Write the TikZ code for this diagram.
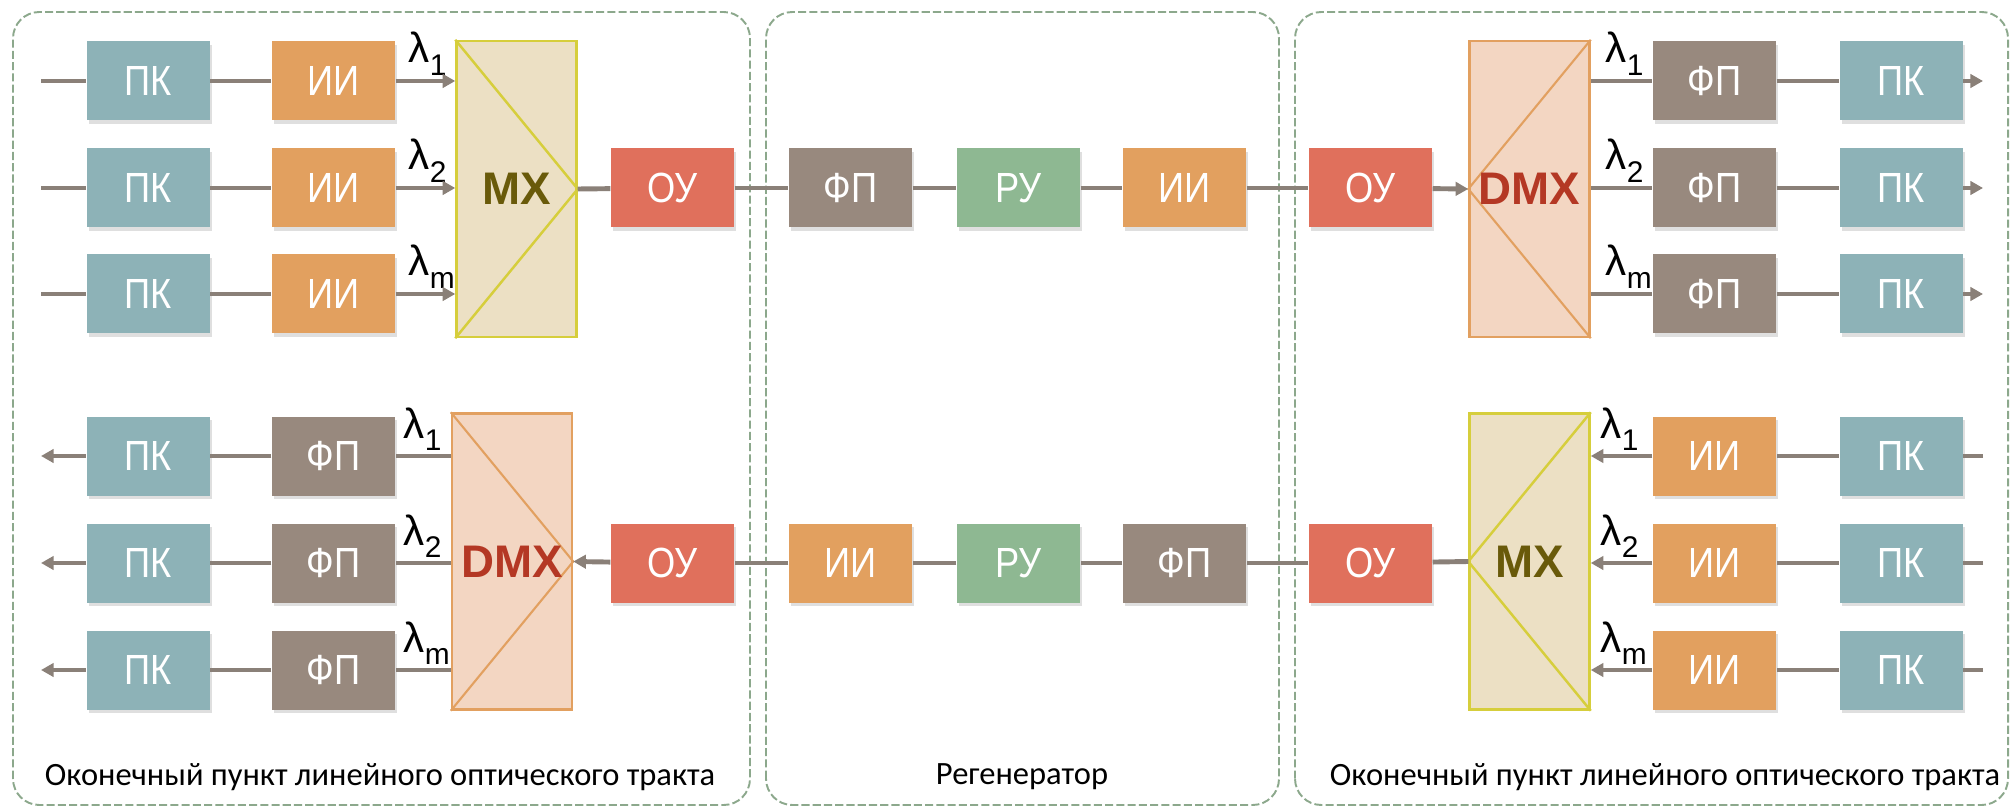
\documentclass[tikz,border=0pt]{standalone}
\usepackage{fontspec}
\setmainfont{Liberation Sans}
\newfontfamily\blockfont[FakeStretch=0.86]{Liberation Sans}
\newfontfamily\notefont{Carlito}
\usepackage{tikz}
\usetikzlibrary{calc,positioning,arrows.meta,shadows}

\definecolor{pkcol}{RGB}{141,178,183}
\definecolor{iicol}{RGB}{226,160,95}
\definecolor{fpcol}{RGB}{152,137,126}
\definecolor{oucol}{RGB}{224,112,92}
\definecolor{rucol}{RGB}{142,184,146}
\definecolor{wirecol}{RGB}{138,128,120}
\definecolor{framecol}{RGB}{140,168,140}
\definecolor{mxfill}{RGB}{236,224,196}
\definecolor{mxdraw}{RGB}{214,206,60}
\definecolor{mxtext}{RGB}{105,90,10}
\definecolor{dmxfill}{RGB}{243,214,194}
\definecolor{dmxdraw}{RGB}{226,160,96}
\definecolor{dmxtext}{RGB}{180,56,36}

\newcommand{\lsub}[1]{\raisebox{-0.3em}{\fontsize{8.5}{9}\selectfont #1}}

\begin{document}
\begin{tikzpicture}[
    blk/.style={minimum width=1.23cm, minimum height=0.79cm, inner sep=0pt,
      text=white, font=\blockfont\fontsize{12}{14}\selectfont,
      drop shadow={shadow xshift=0.6pt, shadow yshift=-0.9pt, opacity=0.25}},
    pk/.style={blk, fill=pkcol},
    ii/.style={blk, fill=iicol},
    fp/.style={blk, fill=fpcol},
    ou/.style={blk, fill=oucol},
    ru/.style={blk, fill=rucol},
    mux/.style={minimum width=1.2cm, minimum height=2.96cm, inner sep=0pt, line width=0.7pt},
    mxbox/.style={mux, draw=mxdraw, fill=mxfill},
    dmxbox/.style={mux, draw=dmxdraw, fill=dmxfill},
    mxlbl/.style={font=\bfseries\fontsize{13}{15}\selectfont, text=mxtext, inner sep=0pt},
    dmxlbl/.style={font=\bfseries\fontsize{13}{15}\selectfont, text=dmxtext, inner sep=0pt},
    wire/.style={draw=wirecol, line width=1.4pt},
    arr/.style={wire, -{Triangle[length=3.6pt, width=3.8pt]}},
    lam/.style={inner sep=0pt, font=\fontsize{12}{14}\selectfont, anchor=base west},
    panel/.style={draw=framecol, line width=0.55pt, dash pattern=on 2.3pt off 0.9pt, rounded corners=7.5pt},
    note/.style={font=\notefont\fontsize{9.25}{11}\selectfont},
  ]
  \useasboundingbox (0,0) rectangle (20.16,8.08);

  % frames and captions
  \draw[panel] (0.13,0.03) rectangle (7.50,7.96);
  \draw[panel] (7.66,0.03) rectangle (12.79,7.96);
  \draw[panel] (12.95,0.03) rectangle (20.08,7.96);
  \node[note] (capA) at (3.80,0.31) {Оконечный пункт линейного оптического тракта};
  \node[note] (capM) at (10.22,0.31) {Регенератор};
  \node[note] (capB) at (16.65,0.31) {Оконечный пункт линейного оптического тракта};

  % upper path, left to right
  \node[mxbox] (mxA) at (5.165,6.19) {};
  \draw[mxdraw, line width=0.7pt] (mxA.north west) -- (mxA.east) -- (mxA.south west);
  \node[mxlbl] (mxAl) at (mxA.center) {MX};
  \node[ou] (ouA) at (6.725,6.20) {ОУ};
  \node[fp] (fpM) at (8.505,6.20) {ФП};
  \node[ru] (ruM) at (10.185,6.20) {РУ};
  \node[ii] (iiM) at (11.845,6.20) {ИИ};
  \node[ou] (ouB) at (13.705,6.20) {ОУ};
  \node[dmxbox] (dmxB) at (15.295,6.19) {};
  \draw[dmxdraw, line width=0.6pt] (dmxB.north east) -- (dmxB.west) -- (dmxB.south east);
  \node[dmxlbl] (dmxBl) at (dmxB.center) {DMX};
  \foreach \a/\b in {mxA.east/ouA, ouA/fpM, fpM/ruM, ruM/iiM, iiM/ouB}
    \draw[wire] (\a) -- (\b);
  \draw[arr] (ouB) -- (dmxB.west);

  \foreach \r/\y/\l in {1/7.27/1, 2/6.20/2, 3/5.14/m} {
    \coordinate (inA\r) at (0.41,\y);
    \node[pk] (pkA\r) at (1.48,\y) {ПК};
    \node[ii] (iiA\r) at (3.335,\y) {ИИ};
    \node[lam] (lamA\r) at (4.08,\y+0.18) {λ\lsub{\l}};
    \draw[wire] (inA\r) -- (pkA\r);
    \draw[wire] (pkA\r) -- (iiA\r);
    \draw[arr] (iiA\r) -- (iiA\r -| mxA.west);

    \node[fp] (fpB\r) at (17.145,\y) {ФП};
    \node[pk] (pkB\r) at (19.01,\y) {ПК};
    \coordinate (outB\r) at (19.83,\y);
    \node[lam] (lamB\r) at (16.05,\y+0.18) {λ\lsub{\l}};
    \draw[wire] (fpB\r -| dmxB.east) -- (fpB\r);
    \draw[wire] (fpB\r) -- (pkB\r);
    \draw[arr] (pkB\r) -- (outB\r);
  }

  % lower path, right to left
  \node[dmxbox] (dmxC) at (5.12,2.465) {};
  \draw[dmxdraw, line width=0.6pt] (dmxC.north west) -- (dmxC.east) -- (dmxC.south west);
  \node[dmxlbl] (dmxCl) at (dmxC.center) {DMX};
  \node[ou] (ouC) at (6.725,2.45) {ОУ};
  \node[ii] (iiN) at (8.505,2.45) {ИИ};
  \node[ru] (ruN) at (10.185,2.45) {РУ};
  \node[fp] (fpN) at (11.845,2.45) {ФП};
  \node[ou] (ouD) at (13.705,2.45) {ОУ};
  \node[mxbox] (mxD) at (15.295,2.465) {};
  \draw[mxdraw, line width=0.7pt] (mxD.north east) -- (mxD.west) -- (mxD.south east);
  \node[mxlbl] (mxDl) at (mxD.center) {MX};
  \foreach \a/\b in {mxD.west/ouD, ouD/fpN, fpN/ruN, ruN/iiN, iiN/ouC}
    \draw[wire] (\a) -- (\b);
  \draw[arr] (ouC) -- (dmxC.east);

  \foreach \r/\y/\l in {4/3.52/1, 5/2.45/2, 6/1.38/m} {
    \coordinate (outC\r) at (0.41,\y);
    \node[pk] (pkC\r) at (1.48,\y) {ПК};
    \node[fp] (fpC\r) at (3.335,\y) {ФП};
    \node[lam] (lamC\r) at (4.03,\y+0.18) {λ\lsub{\l}};
    \draw[wire] (fpC\r -| dmxC.west) -- (fpC\r);
    \draw[wire] (fpC\r) -- (pkC\r);
    \draw[arr] (pkC\r) -- (outC\r);

    \coordinate (inD\r) at (19.83,\y);
    \node[pk] (pkD\r) at (19.01,\y) {ПК};
    \node[ii] (iiD\r) at (17.145,\y) {ИИ};
    \node[lam] (lamD\r) at (16.0,\y+0.18) {λ\lsub{\l}};
    \draw[wire] (inD\r) -- (pkD\r);
    \draw[wire] (pkD\r) -- (iiD\r);
    \draw[arr] (iiD\r) -- (iiD\r -| mxD.east);
  }
\end{tikzpicture}
\end{document}
